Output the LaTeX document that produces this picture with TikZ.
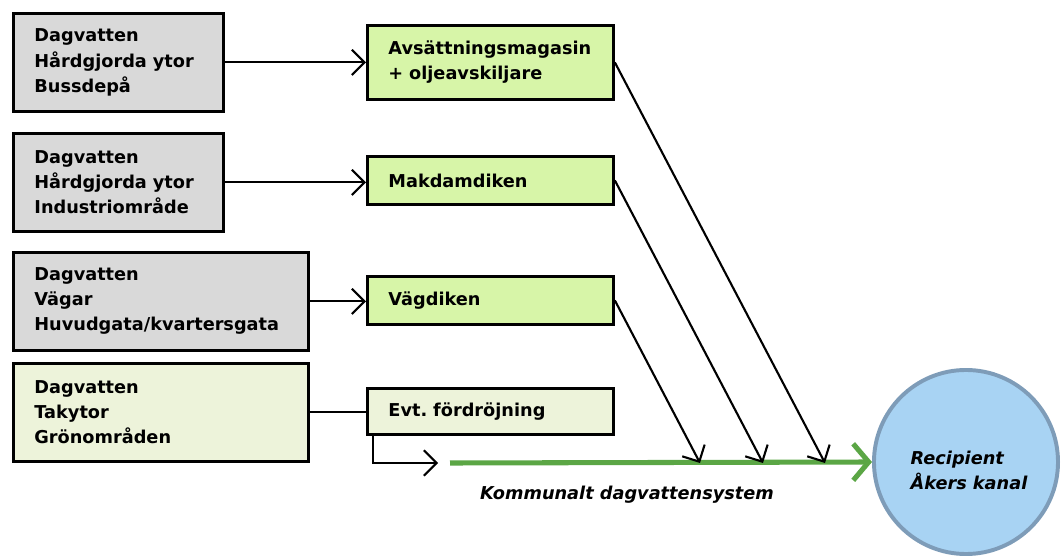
\documentclass[tikz,border=0pt]{standalone}
\usepackage{fontspec}
\setmainfont{DejaVu Sans}
\usetikzlibrary{arrows.meta}
\definecolor{srcgray}{HTML}{D9D9D9}
\definecolor{treatgreen}{HTML}{D7F5A8}
\definecolor{palegreen}{HTML}{EDF3DA}
\definecolor{recipblue}{HTML}{A8D3F3}
\definecolor{recipedge}{HTML}{7E9CB8}
\definecolor{pipegreen}{HTML}{5BA645}
\tikzset{
  every node/.style={font=\bfseries\fontsize{12.6}{17.8}\selectfont},
  srcbox/.style={draw, line width=2pt, fill=srcgray, anchor=north west,
    minimum height=2.45cm, inner xsep=0.525cm, align=left, text width=4.2cm},
  widebox/.style={srcbox, text width=6.325cm},
  treatbox/.style={draw, line width=2pt, fill=treatgreen, anchor=north west,
    minimum height=1.2cm, inner xsep=0.525cm, align=left, text width=5.1cm},
  flow/.style={-{Straight Barb[length=9pt,width=18pt]}, line width=1.5pt},
  pipe/.style={-{Straight Barb[length=11pt,width=26pt]}, line width=3.6pt, pipegreen},
}
\begin{document}
\begin{tikzpicture}[x=0.025cm,y=-0.025cm]
  \useasboundingbox (0,0) rectangle (1061,557);
  % sources
  \node[srcbox] (buss) at (12,12) {Dagvatten\\Hårdgjorda ytor\\Bussdepå};
  \node[srcbox] (industri) at (12,132) {Dagvatten\\Hårdgjorda ytor\\Industriområde};
  \node[widebox] (vagar) at (12,251) {Dagvatten\\Vägar\\Huvudgata/kvartersgata};
  \node[widebox, fill=palegreen] (tak) at (12,362) {Dagvatten\\Takytor\\Grönområden};
  % treatment
  \node[treatbox, minimum height=1.85cm] (magasin) at (366,24) {Avsättningsmagasin\\+ oljeavskiljare};
  \node[treatbox] (makdam) at (366,155) {Makdamdiken};
  \node[treatbox] (vagdike) at (366,275) {Vägdiken};
  \node[treatbox, fill=palegreen, minimum height=1.15cm] (fordroj) at (366,387) {Evt.\ fördröjning};
  % recipient
  \node[circle, draw=recipedge, line width=2.8pt, fill=recipblue, minimum size=4.6cm] (recip) at (966,462) {};
  \node[align=left, font=\bfseries\itshape\fontsize{12.6}{17.8}\selectfont] (reciptext) at (969,470) {Recipient\\Åkers kanal};
  % points on the municipal system
  \coordinate (bend) at (373,463);
  \coordinate (gap) at (438,463);
  \coordinate (sys) at (450,463);
  \coordinate (inC) at (700,463);
  \coordinate (inB) at (763,463);
  \coordinate (inA) at (825,463);
  \draw[flow] (buss.east) -- (buss.east -| magasin.west);
  \draw[flow] (industri.east) -- (industri.east -| makdam.west);
  \draw[flow] (vagar.east) -- (vagar.east -| vagdike.west);
  \draw[line width=1.5pt] (tak.east) -- (tak.east -| fordroj.west);
  \draw[flow] (fordroj.south west -| bend) -- (bend) -- (gap);
  \draw[pipe] (sys) -- (recip.west);
  \draw[flow] (magasin.east) -- (inA);
  \draw[flow] (makdam.east) -- (inB);
  \draw[flow] (vagdike.east) -- (inC);
  \node[font=\bfseries\itshape\fontsize{12.6}{17.8}\selectfont] (kommun) at (627,495) {Kommunalt dagvattensystem};
\end{tikzpicture}
\end{document}
